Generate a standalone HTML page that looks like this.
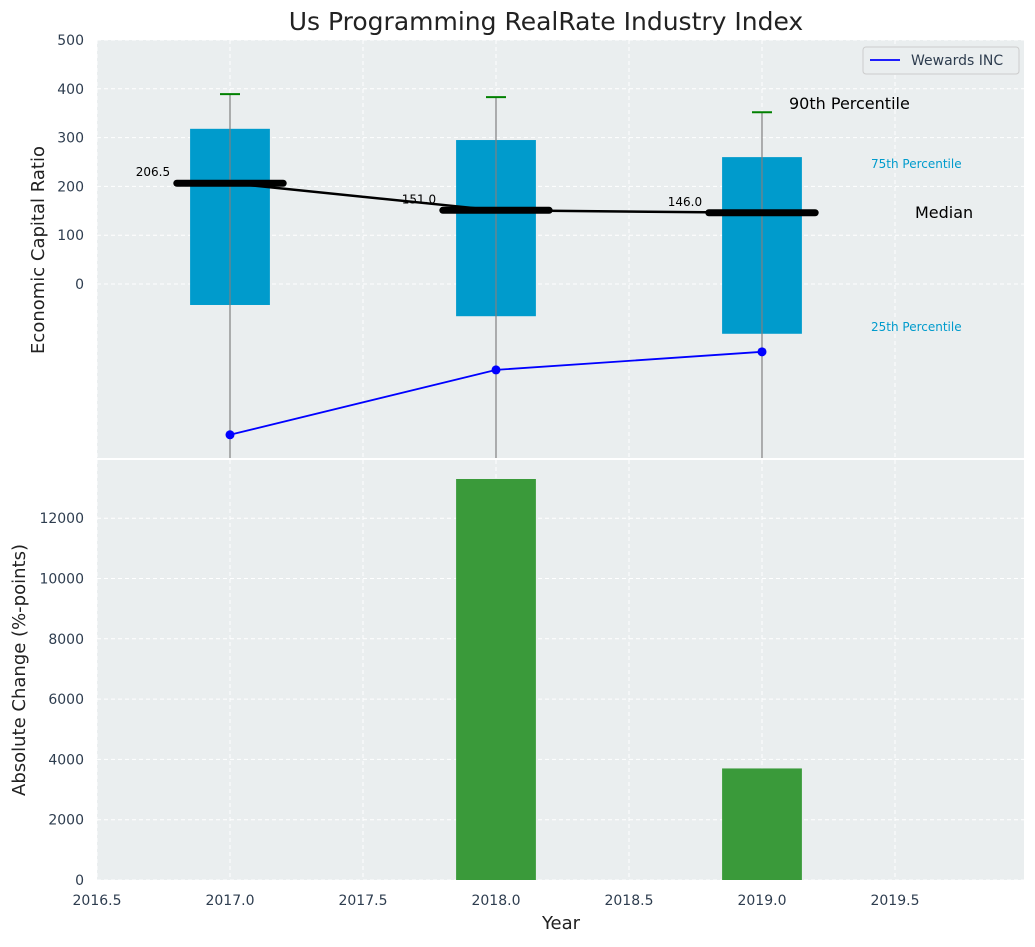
<!DOCTYPE html>
<html><head><meta charset="utf-8"><style>
body{margin:0;background:#fff;font-family:"Liberation Sans","DejaVu Sans",sans-serif}
svg text{font-family:"DejaVu Sans","Liberation Sans",sans-serif}
</style></head><body>
<svg id="c" width="1035" height="942" xmlns="http://www.w3.org/2000/svg"></svg>
<script>
const years=[2017,2018,2019];
const q75=[318,295,260];
const q25=[-43,-66,-102];
const medians=[206.5,151.0,146.0];
const p90=[389,383,352];
const wewards=[-309,-176,-139];
const changes=[0,13300,3700];
const topTicks=[0,100,200,300,400,500];
const botTicks=[0,2000,4000,6000,8000,10000,12000];
const xTicks=[2016.5,2017,2017.5,2018,2018.5,2019,2019.5];

const NS="http://www.w3.org/2000/svg";
const svg=document.getElementById('c');
function el(t,a,txt){const e=document.createElementNS(NS,t);for(const k in a)e.setAttribute(k,a[k]);if(txt!==undefined)e.textContent=txt;svg.appendChild(e);return e;}
const L=97,R=1024,T1=40,B1=458,T2=460,B2=880;
const xs=v=>L+(v-2016.5)/(2019.985-2016.5)*(R-L);
const y1=v=>284-v*0.488;
const y2=v=>B2-v*(B2-T2)/13930;

let e;
e=el('rect',{x:L,y:T1,width:R-L,height:B1-T1,fill:'#eaeeef'});

e=el('rect',{x:L,y:T2,width:R-L,height:B2-T2,fill:'#eaeeef'});


xTicks.forEach(t=>{
 e=el('line',{x1:xs(t),x2:xs(t),y1:T1,y2:B1,stroke:'#fff','stroke-dasharray':'4,3'});
 
 e=el('line',{x1:xs(t),x2:xs(t),y1:T2,y2:B2,stroke:'#fff','stroke-dasharray':'4,3'});
 
 e=el('text',{x:xs(t),y:905,'text-anchor':'middle','font-size':14,fill:'#2e3d4f'},t.toFixed(1));
 
});
topTicks.forEach(t=>{
 e=el('line',{x1:L,x2:R,y1:y1(t),y2:y1(t),stroke:'#fff','stroke-dasharray':'4,3'});
 
 e=el('text',{x:84,y:y1(t)+5,'text-anchor':'end','font-size':14,fill:'#2e3d4f'},t);
 
});
botTicks.forEach(t=>{
 e=el('line',{x1:L,x2:R,y1:y2(t),y2:y2(t),stroke:'#fff','stroke-dasharray':'4,3'});
 
 e=el('text',{x:84,y:y2(t)+5,'text-anchor':'end','font-size':14,fill:'#2e3d4f'},t);
 
});

const bw=0.15;
years.forEach((y,i)=>{
 e=el('rect',{x:xs(y-bw),y:y1(q75[i]),width:xs(y+bw)-xs(y-bw),height:y1(q25[i])-y1(q75[i]),fill:'#009bcc'});
 
 e=el('line',{x1:xs(y),x2:xs(y),y1:B1,y2:y1(p90[i]),stroke:'#808080','stroke-width':1.2});
 
 e=el('line',{x1:xs(y)-10,x2:xs(y)+10,y1:y1(p90[i]),y2:y1(p90[i]),stroke:'green','stroke-width':2});
 
});
e=el('polyline',{points:years.map((y,i)=>xs(y)+','+y1(medians[i])).join(' '),fill:'none',stroke:'#000','stroke-width':2.5});

years.forEach((y,i)=>{
 e=el('line',{x1:xs(y-0.2),x2:xs(y+0.2),y1:y1(medians[i]),y2:y1(medians[i]),stroke:'#000','stroke-width':7,'stroke-linecap':'round'});
 
 e=el('text',{x:xs(y-0.225),y:y1(medians[i])-7,'text-anchor':'end','font-size':12,fill:'#000'},medians[i].toFixed(1));
 
});
e=el('polyline',{points:years.map((y,i)=>xs(y)+','+y1(wewards[i])).join(' '),fill:'none',stroke:'blue','stroke-width':1.8});

years.forEach((y,i)=>{
 e=el('circle',{cx:xs(y),cy:y1(wewards[i]),r:4.5,fill:'blue'});
 
});
e=el('text',{x:789,y:109,'font-size':16,fill:'#000'},'90th Percentile');
e=el('text',{x:871,y:168,'font-size':12,fill:'#009bcc'},'75th Percentile');
e=el('text',{x:915,y:218,'font-size':16,fill:'#000'},'Median');
e=el('text',{x:871,y:331,'font-size':12,fill:'#009bcc'},'25th Percentile');

years.forEach((y,i)=>{
 if(changes[i]<=0)return;
 e=el('rect',{x:xs(y-bw),y:y2(changes[i]),width:xs(y+bw)-xs(y-bw),height:B2-y2(changes[i]),fill:'#3a9a3a'});
 
});

e=el('rect',{x:863,y:47,width:156,height:27,rx:3,fill:'#eaeeef',stroke:'#ccc'});
e=el('line',{x1:870,x2:900,y1:60,y2:60,stroke:'blue','stroke-width':1.8});
e=el('text',{x:911,y:65,'font-size':14,fill:'#2e3d4f'},'Wewards INC');

e=el('text',{x:546,y:30,'text-anchor':'middle','font-size':25,fill:'#222'},'Us Programming RealRate Industry Index');
e=el('text',{x:0,y:0,transform:'translate(44,250) rotate(-90)','text-anchor':'middle','font-size':18,fill:'#222'},'Economic Capital Ratio');
e=el('text',{x:0,y:0,transform:'translate(25,670) rotate(-90)','text-anchor':'middle','font-size':18,fill:'#222'},'Absolute Change (%-points)');
e=el('text',{x:561,y:929,'text-anchor':'middle','font-size':18,fill:'#222'},'Year');
</script>
</body></html>
